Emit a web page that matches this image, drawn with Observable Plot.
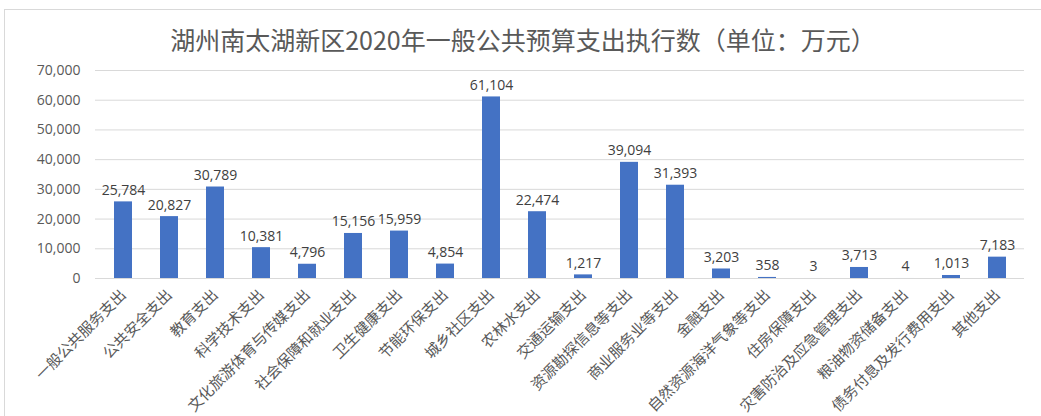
<!DOCTYPE html>
<html>
<head>
<meta charset="utf-8">
<script src="https://cdn.jsdelivr.net/npm/d3@7"></script>
<script src="https://cdn.jsdelivr.net/npm/@observablehq/plot@0.6"></script>
<style>
  html, body { margin: 0; padding: 0; background: #fff; }
  body { width: 1041px; height: 416px; overflow: hidden; position: relative; }
  #frame { position: absolute; left: 4px; top: 9px; width: 1100px; height: 500px; border: 1px solid #d9d9d9; }
  #title { width: 1036px; height: 50px; line-height: 58px; text-align: center; font-family: "Noto Sans CJK SC", sans-serif; font-size: 25px; color: #595959; white-space: nowrap; overflow: visible; }
  #chart svg { display: block; }
</style>
</head>
<body>
<div id="frame">
  <div id="title">湖州南太湖新区2020年一般公共预算支出执行数（单位：万元）</div>
  <div id="chart"></div>
</div>
<script>
const categories = [
  "一般公共服务支出", "公共安全支出", "教育支出", "科学技术支出", "文化旅游体育与传媒支出",
  "社会保障和就业支出", "卫生健康支出", "节能环保支出", "城乡社区支出", "农林水支出",
  "交通运输支出", "资源勘探信息等支出", "商业服务业等支出", "金融支出", "自然资源海洋气象等支出",
  "住房保障支出", "灾害防治及应急管理支出", "粮油物资储备支出", "债务付息及发行费用支出", "其他支出"
];
const values = [25784, 20827, 30789, 10381, 4796, 15156, 15959, 4854, 61104, 22474, 1217, 39094, 31393, 3203, 358, 3, 3713, 4, 1013, 7183];
const yTicks = [0, 10000, 20000, 30000, 40000, 50000, 60000, 70000];

const data = categories.map((c, i) => ({category: c, value: values[i]}));
const fmt = d3.format(",");

const chart = Plot.plot({
  width: 1036,
  height: 356,
  marginLeft: 90,
  marginRight: 17,
  marginTop: 10,
  marginBottom: 138,
  style: {fontFamily: "'Open Sans', 'Noto Sans CJK SC', sans-serif", fontSize: "14px", color: "#595959", background: "transparent"},
  x: {domain: categories, paddingInner: 0.61, paddingOuter: 0.305, label: null},
  y: {domain: [0, 70000], label: null},
  marks: [
    Plot.ruleY(yTicks, {stroke: "#d9d9d9", strokeWidth: 1}),
    Plot.barY(data, {x: "category", y: "value", fill: "#4472C4"}),
    Plot.text(data, {x: "category", y: "value", text: d => fmt(d.value), dy: -7, lineAnchor: "bottom", fill: "#404040", fontSize: 14}),
    Plot.axisY({ticks: yTicks, tickSize: 0, tickPadding: 15, tickFormat: d => fmt(d), label: null, fill: "#595959", fontSize: 14}),
    Plot.axisX({tickRotate: -45, tickSize: 0, tickPadding: 14, label: null, fill: "#595959", fontSize: 15, fontFamily: "'Noto Sans CJK SC', sans-serif"})
  ]
});
document.getElementById("chart").appendChild(chart);
</script>
</body>
</html>
